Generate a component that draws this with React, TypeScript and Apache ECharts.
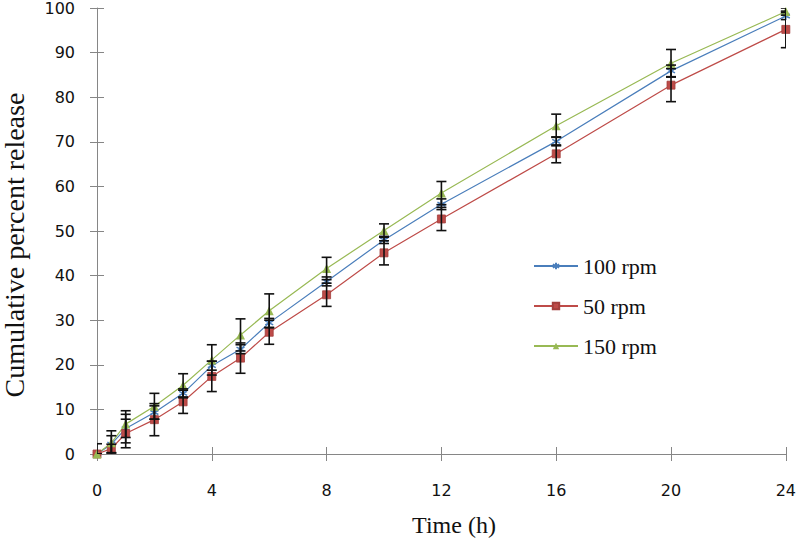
import React, { useEffect, useRef } from "react";
import * as echarts from "echarts";

const timeHours = [0, 0.5, 1, 2, 3, 4, 5, 6, 8, 10, 12, 16, 20, 24];
const rpm100 = [0, 2.2, 5.7, 9.3, 13.6, 19.8, 23.5, 29.4, 38.7, 48.0, 56.0, 70.1, 85.9, 98.2];
const rpm50 = [0, 1.2, 4.6, 7.7, 11.7, 17.4, 21.5, 27.3, 35.7, 45.1, 52.7, 67.3, 82.7, 95.2];
const rpm150 = [0, 2.5, 6.7, 10.7, 15.4, 21.1, 26.7, 32.1, 41.6, 50.1, 58.5, 73.6, 87.6, 99.2];
const err100 = [0, 1.9, 3.2, 1.5, 1.0, 1.0, 1.0, 1.0, 1.0, 0.8, 1.2, 1.0, 1.3, 0.8];
const err50 = [0, 1.0, 3.2, 3.6, 2.6, 3.4, 3.4, 2.7, 2.6, 2.7, 2.6, 2.0, 3.7, 4.1];
const err150 = [2.3, 2.7, 3.0, 2.9, 2.6, 3.4, 3.6, 3.8, 2.5, 1.5, 2.6, 2.6, 3.1, 0.8];
const xTicks = { min: 0, max: 24, interval: 4 };
const yTicks = { min: 0, max: 100, interval: 10 };

const BLUE = "#4A7EBB";
const RED = "#BE4B48";
const GREEN = "#98B954";
const AXIS = "#868686";
const STAR = "path://M5,0L5,10M0.7,2.5L9.3,7.5M9.3,2.5L0.7,7.5";

function lineData(vals: number[]) {
  return timeHours.map((t, i) => [t, vals[i]]);
}
function errData(vals: number[], errs: number[]) {
  return timeHours.map((t, i) => [t, vals[i] - errs[i], vals[i] + errs[i]]);
}

const renderErr = (params: any, api: any) => {
  const x = api.value(0);
  const lo = api.coord([x, api.value(1)]);
  const hi = api.coord([x, api.value(2)]);
  const w = 5;
  const st = { stroke: "#111", lineWidth: 1.6 };
  return {
    type: "group",
    children: [
      { type: "line", shape: { x1: lo[0], y1: lo[1], x2: hi[0], y2: hi[1] }, style: st },
      { type: "line", shape: { x1: lo[0] - w, y1: lo[1], x2: lo[0] + w, y2: lo[1] }, style: st },
      { type: "line", shape: { x1: hi[0] - w, y1: hi[1], x2: hi[0] + w, y2: hi[1] }, style: st },
    ],
  };
};

export default function App() {
  const ref = useRef<HTMLDivElement>(null);
  useEffect(() => {
    if (!ref.current) return;
    const chart = echarts.init(ref.current, undefined, { renderer: "svg" });
    const tickLabel = { color: "#111", fontFamily: "DejaVu Sans", fontSize: 16 };
    const axisLine = { show: true, lineStyle: { color: AXIS, width: 1 } };
    chart.setOption({
      animation: false,
      backgroundColor: "#fff",
      grid: { left: 97, right: 10, top: 8, bottom: 84, containLabel: false },
      legend: {
        data: ["100 rpm", "50 rpm", "150 rpm"],
        orient: "vertical",
        left: 533,
        top: 255,
        padding: 0,
        itemWidth: 44,
        itemHeight: 8,
        itemGap: 18,
        textStyle: { fontFamily: "Liberation Serif", fontSize: 22, color: "#111" },
      },
      xAxis: [
        {
          type: "value",
          ...xTicks,
          axisLine,
          axisTick: { show: true, length: 7, lineStyle: { color: AXIS } },
          axisLabel: { ...tickLabel, margin: 28 },
          splitLine: { show: false },
        },
        {
          type: "value",
          position: "bottom",
          ...xTicks,
          axisLine: { show: false },
          axisTick: { show: true, inside: true, length: 7, lineStyle: { color: AXIS } },
          axisLabel: { show: false },
          splitLine: { show: false },
        },
      ],
      yAxis: [
        {
          type: "value",
          position: "left",
          ...yTicks,
          axisLine,
          axisTick: { show: true, length: 7, lineStyle: { color: AXIS } },
          axisLabel: { ...tickLabel, margin: 22 },
          splitLine: { show: false },
        },
        {
          type: "value",
          position: "left",
          offset: 0,
          ...yTicks,
          axisLine: { show: false },
          axisTick: { show: true, inside: true, length: 7, lineStyle: { color: AXIS } },
          axisLabel: { show: false },
          splitLine: { show: false },
        },
      ],
      graphic: [
        {
          type: "text",
          x: 14,
          y: 245,
          rotation: Math.PI / 2,
          style: {
            text: "Cumulative percent release",
            fontFamily: "Liberation Serif",
            fontSize: 28,
            fill: "#111",
            align: "center",
            verticalAlign: "middle",
          },
        },
        {
          type: "text",
          x: 454,
          y: 525,
          style: {
            text: "Time (h)",
            fontFamily: "Liberation Serif",
            fontSize: 24,
            fill: "#111",
            align: "center",
            verticalAlign: "middle",
          },
        },
      ],
      series: [
        {
          name: "100 rpm",
          type: "line",
          data: lineData(rpm100),
          symbol: STAR,
          symbolSize: 8,
          lineStyle: { color: BLUE, width: 1.2 },
          itemStyle: { color: BLUE, borderColor: BLUE, borderWidth: 1.5 },
          z: 3,
        },
        {
          name: "50 rpm",
          type: "line",
          data: lineData(rpm50),
          symbol: "rect",
          symbolSize: 8,
          lineStyle: { color: RED, width: 1.2 },
          itemStyle: { color: RED, borderColor: "#A33F3C", borderWidth: 0.8 },
          z: 3,
        },
        {
          name: "150 rpm",
          type: "line",
          data: lineData(rpm150),
          symbol: "triangle",
          symbolSize: 9,
          lineStyle: { color: GREEN, width: 1.2 },
          itemStyle: { color: GREEN },
          z: 3,
        },
        { type: "custom", name: "err100", data: errData(rpm100, err100), renderItem: renderErr, clip: true, z: 4 },
        { type: "custom", name: "err50", data: errData(rpm50, err50), renderItem: renderErr, clip: true, z: 4 },
        { type: "custom", name: "err150", data: errData(rpm150, err150), renderItem: renderErr, clip: true, z: 4 },
      ],
    });
    return () => chart.dispose();
  }, []);
  return (
    <div
      ref={ref}
      style={{ position: "fixed", left: 0, top: 0, width: 799, height: 538, background: "#fff" }}
    />
  );
}
